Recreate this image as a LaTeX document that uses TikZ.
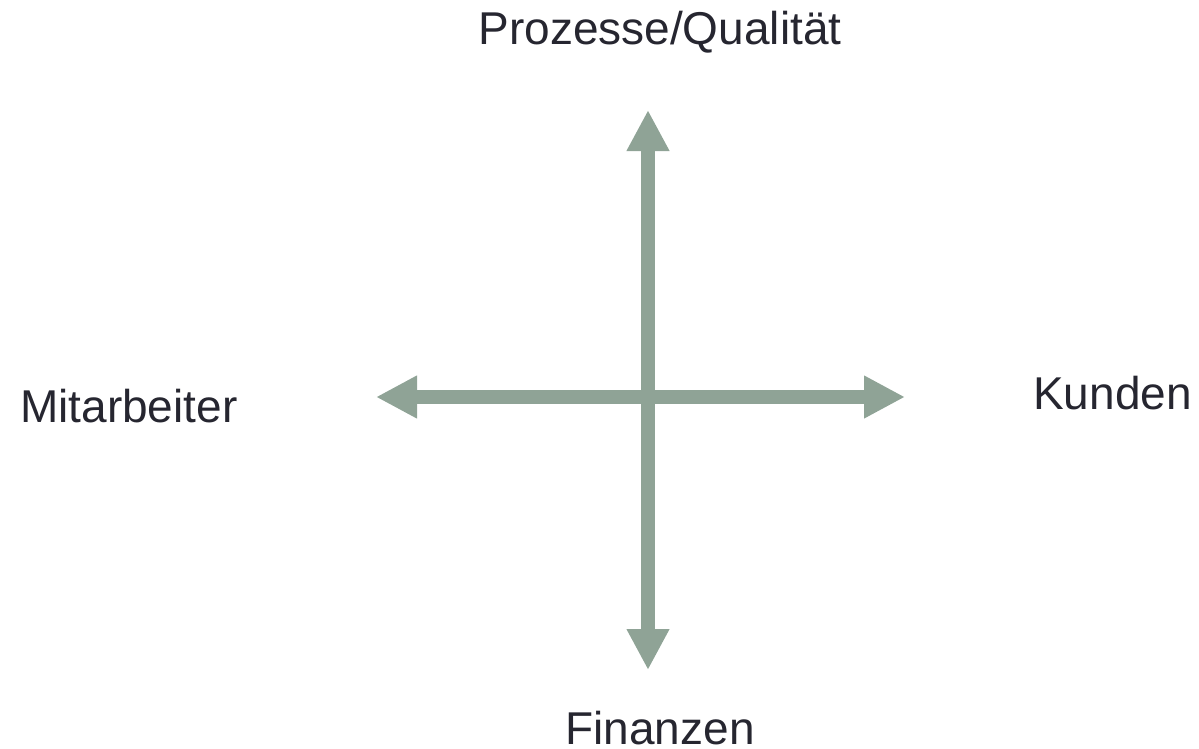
\documentclass[tikz,border=0pt]{standalone}
\usepackage{fontspec}
\setmainfont{Liberation Sans}
\usetikzlibrary{arrows.meta}
\definecolor{axisgreen}{RGB}{143,163,150}
\definecolor{labeltext}{RGB}{38,38,48}
\begin{document}
\begin{tikzpicture}[x=1pt,y=-1pt,
  lbl/.style={inner sep=0pt,text=labeltext,font=\fontsize{46}{54}\selectfont},
  axisarrow/.style={draw=axisgreen,line width=14pt,
    {Triangle[length=41pt,width=40pt]}-{Triangle[length=41pt,width=40pt]}}]
  \useasboundingbox (0,0) rectangle (1199,749);
  % axis end points
  \coordinate (up) at (648,110);
  \coordinate (down) at (648,670);
  \coordinate (left) at (376,397);
  \coordinate (right) at (905,397);
  % the four perspectives
  \node[lbl,anchor=base] (proz) at (660,45) {Prozesse/Qualität};
  \node[lbl,anchor=base] (fin) at (660,744) {Finanzen};
  \node[lbl,anchor=base west] (mit) at (20,422) {Mitarbeiter};
  \node[lbl,anchor=base west] (kun) at (1033,409) {Kunden};
  % cross of double arrows
  \draw[axisarrow] (left) -- (right);
  \draw[axisarrow] (down) -- (up);
\end{tikzpicture}
\end{document}
